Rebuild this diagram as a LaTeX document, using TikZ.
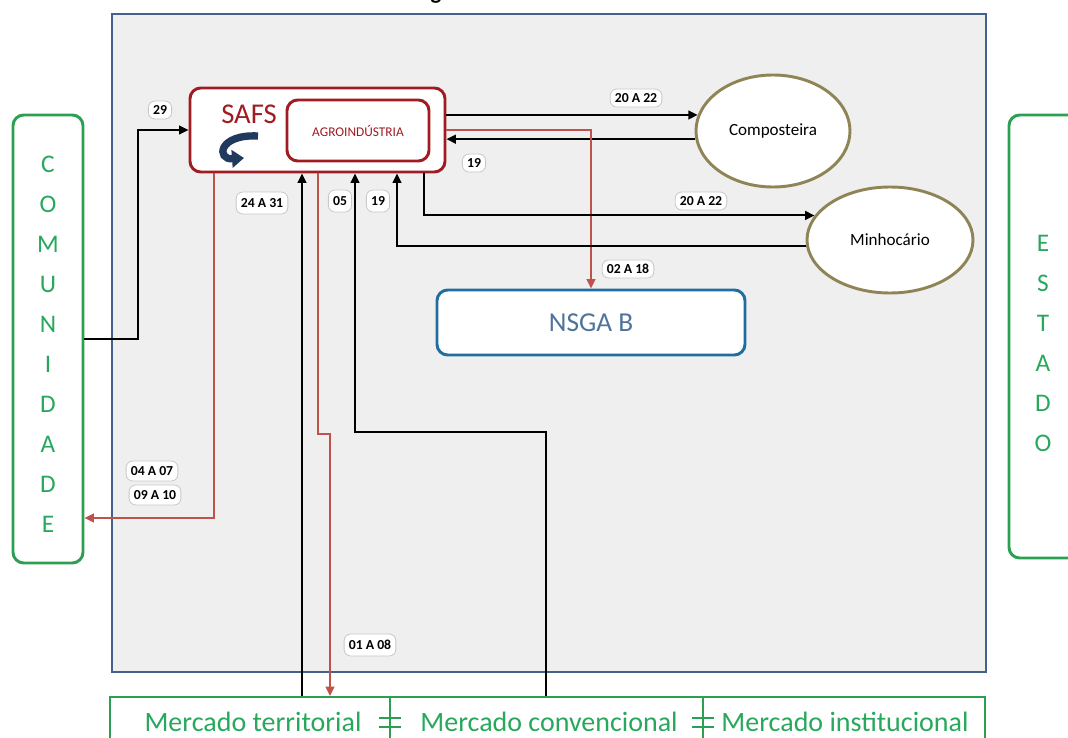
\documentclass[tikz,border=0pt]{standalone}
\usepackage{fontspec}
\setmainfont{Carlito}
\usetikzlibrary{arrows.meta,shapes.geometric,calc}
\newcommand\pxu{0.75pt}
\definecolor{mainborder}{RGB}{68,96,140}
\definecolor{mainfill}{RGB}{239,239,239}
\definecolor{safsred}{RGB}{158,28,34}
\definecolor{linered}{RGB}{190,82,76}
\definecolor{grn}{RGB}{44,160,82}
\definecolor{grntext}{RGB}{40,168,92}
\definecolor{nsgablue}{RGB}{30,110,160}
\definecolor{nsgatext}{RGB}{78,116,156}
\definecolor{olive}{RGB}{142,132,86}
\definecolor{navy}{RGB}{32,58,94}
\definecolor{lblborder}{RGB}{200,200,200}
\begin{document}
\begin{tikzpicture}[x=0.75pt,y=-0.75pt,
  blk/.style={draw=black,line width=1.5pt},
  redl/.style={draw=linered,line width=1.5pt},
  tip/.style={-{Triangle[length=7pt,width=6.5pt]}},
  lbl/.style={draw=lblborder,fill=white,rounded corners=5pt,line width=0.6pt,
     font=\bfseries\fontsize{10.3}{12}\selectfont,inner xsep=3.5pt,inner ysep=1pt,
     minimum height=18*\pxu,minimum width=19*\pxu},
  ell/.style={ellipse,draw=olive,line width=2.2pt,fill=white,inner sep=0pt,
     font=\fontsize{12.8}{14}\selectfont},
  grnbox/.style={draw=grn,line width=2.2pt,fill=white,rounded corners=8pt},
  lettercol/.style={text=grntext,align=center,font=\fontsize{19}{30}\selectfont,inner sep=0pt},
  mktxt/.style={anchor=base,text=grntext,font=\fontsize{21}{23}\selectfont,inner sep=0pt}
]
\useasboundingbox (0,0) rectangle (1068,738);
\fill[white] (0,0) rectangle (1068,738);
% cut-off title fragment
\node[anchor=base,font=\bfseries\fontsize{17}{19}\selectfont,inner sep=0pt] (ttl) at (436,-0.5) {g};
% main frame
\node[draw=mainborder,fill=mainfill,line width=1.6pt,minimum width=874*\pxu,minimum height=658*\pxu,inner sep=0pt] (main) at (549,343) {};
% side boxes
\node[grnbox,minimum width=70*\pxu,minimum height=448*\pxu] (com) at (48,339) {};
\node[lettercol] (comtxt) at (48,344) {C\\O\\M\\U\\N\\I\\D\\A\\D\\E};
\node[grnbox,minimum width=78*\pxu,minimum height=443*\pxu] (est) at (1048,336.5) {};
\node[lettercol] (esttxt) at (1043,343) {E\\S\\T\\A\\D\\O};
% market bar
\node[draw=grn,line width=1.6pt,fill=white,minimum width=875*\pxu,minimum height=70*\pxu,inner sep=0pt] (mkt) at (547.5,732) {};
\foreach \xx in {390,703}{
  \draw[grn,line width=1.6pt] (\xx,697) -- (\xx,760);
  \draw[grn,line width=1.4pt] (\xx-11,718) -- (\xx+11,718);
  \draw[grn,line width=1.4pt] (\xx-11,727) -- (\xx+11,727);
}
\node[mktxt] (mt) at (253,731) {Mercado territorial};
\node[mktxt] (mc) at (549,731) {Mercado convencional};
\node[mktxt] (mi) at (845,731) {Mercado institucional};
% SAFS
\node[draw=safsred,line width=2.2pt,fill=white,rounded corners=8pt,minimum width=255*\pxu,minimum height=84*\pxu,inner sep=0pt] (safs) at (317.5,130) {};
\node[draw=safsred,line width=2.2pt,fill=white,rounded corners=8pt,minimum width=142*\pxu,minimum height=61*\pxu,inner sep=0pt,text=safsred,font=\fontsize{10}{11}\selectfont] (agro) at (358,130.5) {AGROINDÚSTRIA};
\node[text=safsred,font=\fontsize{21.5}{23}\selectfont,inner sep=0pt] (safstxt) at (249,114) {SAFS};
\draw[navy,line width=5.5pt,-{Triangle[length=9pt,width=13pt]}] (258,136) .. controls (218,134) and (216,160) .. (244,158);
% ellipses and NSGA
\node[ell,minimum width=154*\pxu,minimum height=112*\pxu] (comp) at (773,131) {Composteira};
\node[ell,minimum width=166*\pxu,minimum height=106*\pxu] (minho) at (890,240) {Minhocário};
\node[draw=nsgablue,line width=2.2pt,fill=white,rounded corners=8pt,minimum width=308*\pxu,minimum height=65*\pxu,inner sep=0pt,text=nsgatext,font=\fontsize{20.5}{22}\selectfont] (nsga) at (591,322.5) {NSGA B};
% connectors
\draw[blk,tip] (com.east) -- ++(54,0) |- (safs.west);
\draw[blk,tip] (safs.east |- comp.168.6) -- (comp.168.6);
\draw[blk,tip] (comp.186.75) -- (safs.east |- comp.186.75);
\draw[redl,tip] (safs.east) -| (nsga.north);
\draw[blk,tip] ([xshift=106.5*\pxu]safs.south) |- (minho.162.9);
\draw[blk,tip] (minho.184.9) -| ([xshift=79.5*\pxu]safs.south);
\draw[blk,tip] ([xshift=-1.5*\pxu]mkt.north) -- ++(0,-264) -| ([xshift=37.5*\pxu]safs.south);
\draw[blk,tip] ([xshift=-245.5*\pxu]mkt.north) -- ([xshift=-245.5*\pxu]mkt.north |- safs.south);
\draw[redl,tip] (safs.south) -- ++(0,261) -| ([xshift=-217.5*\pxu]mkt.north);
\draw[redl,tip] ([xshift=-103.5*\pxu]safs.south) |- ([yshift=-179*\pxu]com.east);
% labels
\node[lbl] (l29) at (160,110) {29};
\node[lbl] (l2022a) at (636,98) {20 A 22};
\node[lbl] (l19a) at (474,163) {19};
\node[lbl] (l2022b) at (701,201) {20 A 22};
\node[lbl] (l0218) at (628,269) {02 A 18};
\node[lbl,minimum height=22*\pxu] (l2431) at (262,203) {24 A 31};
\node[lbl,minimum height=22*\pxu] (l05) at (340,201) {05};
\node[lbl,minimum height=22*\pxu] (l19b) at (378,201) {19};
\node[lbl,minimum height=20*\pxu] (l0407) at (152,471) {04 A 07};
\node[lbl,minimum height=20*\pxu] (l0910) at (155,495) {09 A 10};
\node[lbl,minimum height=22*\pxu] (l0108) at (370,645) {01 A 08};
\end{tikzpicture}
\end{document}
